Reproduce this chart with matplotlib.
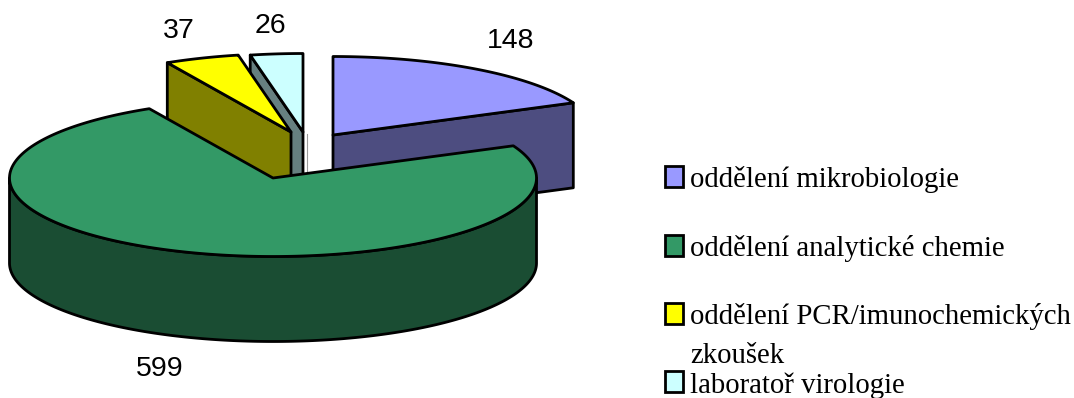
import numpy as np
import matplotlib
matplotlib.use("Agg")
import matplotlib.pyplot as plt
from matplotlib.patches import Polygon, Rectangle

categories = ["oddělení mikrobiologie", "oddělení analytické chemie",
              "oddělení PCR/imunochemických", "laboratoř virologie"]
continuation = {2: "zkoušek"}
values = [148, 599, 37, 26]
top_colors = ["#9999FF", "#339966", "#FFFF00", "#CCFFFF"]
side_colors = ["#4D4D80", "#1A4D33", "#808000", "#668080"]

# Exploded slice centres, in figure pixels
centres = [(333, 135), (273, 178), (291, 132), (303, 132)]
label_pos = [(511, 41), (160, 369), (179, 31), (270, 26)]
legend_box_y = [166, 235, 303, 371]
legend_text_y = [187, 256, 324, 393]
continuation_y = 363

RX, RY, DEPTH = 263.5, 78.5, 85
EDGE = 2.0

fig = plt.figure(figsize=(10.74, 3.98), dpi=100)
ax = fig.add_axes([0, 0, 1, 1])
ax.set_xlim(0, 1074)
ax.set_ylim(398, 0)
ax.axis("off")


def rim(c, angles, drop=0.0):
    """Points on the slice rim; angles run clockwise from twelve o'clock."""
    a = np.radians(angles)
    return np.column_stack([c[0] + RX * np.sin(a), c[1] - RY * np.cos(a) + drop])


def shape(points, color, z):
    ax.add_patch(Polygon(points, closed=True, facecolor=color, edgecolor="black",
                         linewidth=EDGE, joinstyle="round", zorder=z))


edges = np.concatenate([[0], np.cumsum(values)]) / sum(values) * 360
# Back slices first so the large front slice overlaps them
for z, i in enumerate([3, 2, 0, 1]):
    c = np.array(centres[i], float)
    a0, a1 = edges[i], edges[i + 1]
    arc = rim(c, np.linspace(a0, a1, 300))
    # Radial side walls facing the viewer
    if i == 0:
        p = arc[-1]
        shape([c, p, p + [0, DEPTH], c + [0, DEPTH]], side_colors[i], z * 3)
    if i in (2, 3):
        p = arc[0]
        shape([c, p, p + [0, DEPTH], c + [0, DEPTH]], side_colors[i], z * 3)
    # Outer curved wall on the near half of the rim
    lo, hi = max(a0, 90), min(a1, 270)
    if hi > lo:
        t = np.linspace(lo, hi, 300)
        shape(np.vstack([rim(c, t), rim(c, t[::-1], DEPTH)]), side_colors[i], z * 3 + 1)
    shape(np.vstack([c, arc]), top_colors[i], z * 3 + 2)

ax.plot([307, 307], [134, 172], color="#9a9a9a", lw=0.8, zorder=1)

for v, (x, y) in zip(values, label_pos):
    ax.text(x, y, str(v), family="Liberation Sans", fontsize=20.5, ha="center",
            va="center", color="black", zorder=20)

for i, (name, col, by, ty) in enumerate(zip(categories, top_colors, legend_box_y, legend_text_y)):
    ax.add_patch(Rectangle((665, by), 18, 21, facecolor=col, edgecolor="black",
                           linewidth=EDGE, zorder=20))
    ax.text(690, ty, name, family="Liberation Serif", fontsize=20.7, ha="left",
            va="baseline", color="black", zorder=20)
    if i in continuation:
        ax.text(690, continuation_y, continuation[i], family="Liberation Serif",
                fontsize=20.7, ha="left", va="baseline", color="black", zorder=20)

fig.savefig("out.png", dpi=100)
